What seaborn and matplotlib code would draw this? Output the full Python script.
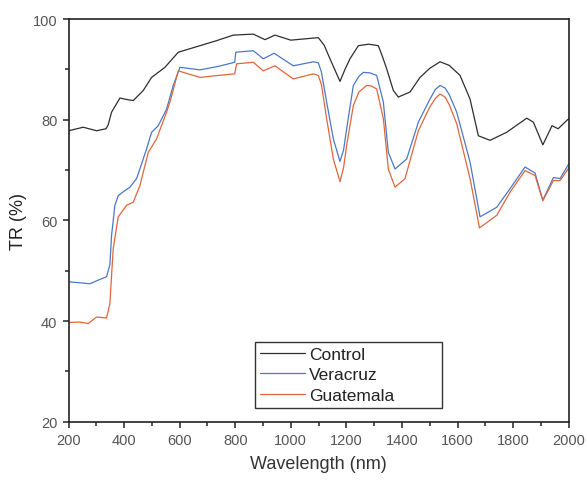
import pandas as pd
import matplotlib
matplotlib.use("Agg")
import matplotlib.pyplot as plt
from matplotlib.ticker import MultipleLocator
import seaborn as sns

sns.set_style("ticks")
plt.rcParams["font.family"] = ["Liberation Sans", "DejaVu Sans"]

# Control
wl_control = [200, 253, 301, 335, 343, 355, 385, 410, 433, 469, 499, 547, 595, 673, 733, 793, 865, 907, 943, 1000,
              1099, 1120, 1141, 1177, 1195, 1213, 1243, 1280, 1315, 1330, 1345, 1369, 1387, 1429, 1465, 1500, 1537,
              1570, 1609, 1645, 1675, 1717, 1777, 1849, 1873, 1907, 1940, 1962, 2000]
tr_control = [77.8, 78.5, 77.8, 78.2, 79.0, 81.5, 84.3, 84.0, 83.8, 85.8, 88.4, 90.4, 93.4, 94.7, 95.7, 96.8, 97.0,
              95.9, 96.8, 95.8, 96.3, 94.8, 92.1, 87.6, 90.0, 92.1, 94.7, 95.0, 94.7, 92.5, 90.1, 85.8, 84.5, 85.5,
              88.4, 90.2, 91.5, 90.8, 88.8, 84.1, 76.8, 75.9, 77.5, 80.3, 79.5, 75.0, 78.8, 78.2, 80.2]

# Veracruz
wl_veracruz = [200, 240, 277, 310, 337, 349, 355, 367, 379, 400, 421, 445, 469, 481, 499, 523, 553, 577, 601, 673,
               740, 798, 802, 865, 901, 940, 1009, 1081, 1099, 1110, 1129, 1153, 1177, 1190, 1201, 1225, 1245, 1261,
               1285, 1309, 1333, 1351, 1375, 1417, 1459, 1500, 1520, 1537, 1555, 1570, 1597, 1645, 1681, 1741, 1789,
               1843, 1879, 1907, 1945, 1969, 2000]
tr_veracruz = [47.8, 47.6, 47.4, 48.2, 48.8, 51.2, 57.0, 63.0, 64.9, 65.8, 66.6, 68.3, 72.2, 74.2, 77.5, 78.8, 82.1,
               86.8, 90.4, 89.9, 90.6, 91.4, 93.4, 93.7, 92.1, 93.2, 90.7, 91.5, 91.3, 89.5, 83.5, 76.2, 71.7, 74.0,
               78.2, 86.8, 88.6, 89.4, 89.3, 88.8, 83.5, 73.5, 70.2, 72.2, 79.5, 84.0, 86.0, 86.8, 86.3, 85.0, 81.5,
               71.6, 60.7, 62.6, 66.3, 70.6, 69.4, 64.0, 68.5, 68.3, 71.2]

# Guatemala
wl_guatemala = [200, 240, 271, 301, 337, 349, 355, 361, 379, 409, 433, 457, 487, 517, 553, 565, 595, 673, 740, 798,
                805, 865, 901, 943, 1009, 1081, 1099, 1110, 1129, 1153, 1177, 1190, 1201, 1225, 1245, 1273, 1290,
                1309, 1333, 1351, 1375, 1411, 1459, 1500, 1520, 1537, 1555, 1570, 1597, 1645, 1679, 1741, 1789, 1843,
                1879, 1907, 1945, 1969, 2000]
tr_guatemala = [39.7, 39.8, 39.5, 40.8, 40.6, 43.5, 49.1, 54.4, 60.7, 63.0, 63.6, 66.9, 73.5, 76.2, 81.5, 83.5,
                89.7, 88.4, 88.8, 89.1, 91.1, 91.4, 89.7, 90.7, 88.1, 89.1, 88.8, 87.0, 80.2, 72.2, 67.7, 70.5, 74.9,
                82.8, 85.5, 86.8, 86.7, 86.1, 80.2, 70.2, 66.6, 68.3, 77.8, 82.5, 84.2, 85.1, 84.5, 83.0, 79.2, 68.3,
                58.5, 61.0, 65.6, 69.9, 68.9, 63.9, 67.9, 67.9, 70.4]

samples = ["Control", "Veracruz", "Guatemala"]
colors = {"Control": "#2e2e2e", "Veracruz": "#4a78c8", "Guatemala": "#e0663a"}

df = pd.concat([
    pd.DataFrame({"wl": wl_control, "tr": tr_control, "sample": "Control"}),
    pd.DataFrame({"wl": wl_veracruz, "tr": tr_veracruz, "sample": "Veracruz"}),
    pd.DataFrame({"wl": wl_guatemala, "tr": tr_guatemala, "sample": "Guatemala"}),
], ignore_index=True)

fig = plt.figure(figsize=(5.87, 4.81), dpi=100)
ax = fig.add_axes([0.1167, 0.1212, 0.8521, 0.8372])

sns.lineplot(data=df, x="wl", y="tr", hue="sample", hue_order=samples, palette=colors,
             estimator=None, sort=False, lw=0.9, ax=ax)

ax.set_xlim(200, 2000)
ax.set_ylim(20, 100)
ax.xaxis.set_major_locator(MultipleLocator(200))
ax.xaxis.set_minor_locator(MultipleLocator(100))
ax.yaxis.set_major_locator(MultipleLocator(20))
ax.yaxis.set_minor_locator(MultipleLocator(10))
ax.tick_params(which="major", direction="out", length=4.5, width=1.1, colors="#222222",
               labelcolor="#555555", labelsize=10.5)
ax.tick_params(which="minor", direction="out", length=3, width=1.1, colors="#222222")
for sp in ax.spines.values():
    sp.set_visible(True)
    sp.set_linewidth(1.2)
    sp.set_color("#222222")

ax.set_xlabel("Wavelength (nm)", fontsize=13, color="#333333", labelpad=6)
ax.set_ylabel("TR (%)", fontsize=13, color="#222222", labelpad=4)

leg = ax.legend(loc="lower left", bbox_to_anchor=(0.373, 0.034, 0.374, 0.176), mode="expand",
                frameon=True, fancybox=False, framealpha=1, edgecolor="#333333",
                fontsize=12.5, handlelength=2.6, handletextpad=0.2, labelspacing=0.3,
                borderpad=0.3, borderaxespad=0)
leg.get_frame().set_linewidth(1.0)
for t in leg.get_texts():
    t.set_color("#222222")

fig.savefig("out.png", dpi=100)
